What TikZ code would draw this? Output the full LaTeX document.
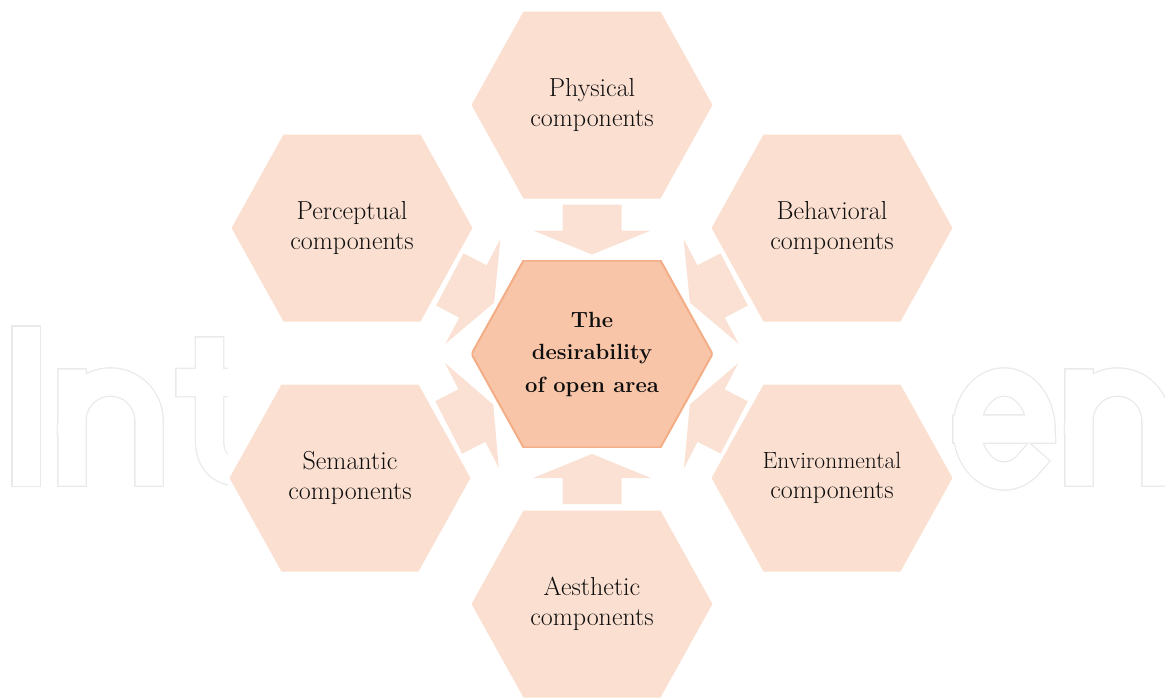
\documentclass[tikz,border=0pt]{standalone}
\usetikzlibrary{calc}
\definecolor{hexc}{RGB}{251,224,209}
\definecolor{centc}{RGB}{248,197,168}
\definecolor{centb}{RGB}{243,174,135}
\definecolor{arrc}{RGB}{251,225,211}
\definecolor{wmgray}{RGB}{234,234,234}
\definecolor{textc}{RGB}{15,15,15}
\newcommand\hexpts{(path picture bounding box.west) -- ([xshift=52pt]path picture bounding box.north west) -- ([xshift=-52pt]path picture bounding box.north east) -- (path picture bounding box.east) -- ([xshift=-52pt]path picture bounding box.south east) -- ([xshift=52pt]path picture bounding box.south west) -- cycle}
\newcommand\blockarr[2]{%
  \fill[arrc] let \p1=($(#2)-(#1)$), \p2=($(#1)!0.5!(#2)$), \n1={atan2(\y1,\x1)} in
    ([shift={(\p2)},rotate=\n1]-25,-29.5) -- ([shift={(\p2)},rotate=\n1]1,-29.5) --
    ([shift={(\p2)},rotate=\n1]1,-59) -- ([shift={(\p2)},rotate=\n1]25,0) --
    ([shift={(\p2)},rotate=\n1]1,59) -- ([shift={(\p2)},rotate=\n1]1,29.5) --
    ([shift={(\p2)},rotate=\n1]-25,29.5) -- cycle;}
\tikzset{
  watermark/.style={draw=wmgray, line width=1.3pt, double=white, double distance=27pt, line cap=rect},
  hexbase/.style={minimum width=241pt, minimum height=187pt, inner sep=0pt, align=center, text=textc},
  outerhex/.style={hexbase, font=\fontsize{26}{30}\selectfont, path picture={\fill[hexc] \hexpts;}},
  centerhex/.style={hexbase, font=\bfseries\fontsize{22}{32.5}\selectfont, path picture={\filldraw[fill=centc, draw=centb, line width=2pt] \hexpts;}},
}
\begin{document}
\begin{tikzpicture}[x=1pt,y=-1pt]
\useasboundingbox (0,0) rectangle (1165,697);
\clip (0,0) rectangle (1165,697);
% watermark
\draw[watermark] (26,340) -- (26,472);
\draw[watermark] (72,472) -- (72,383)
  (72,420.5) .. controls (72,399.2) and (89.2,382) .. (110.5,382) .. controls (131.8,382) and (149,399.2) .. (149,420.5) -- (149,472);
\draw[watermark] (209.5,351) -- (209.5,440) .. controls (209.5,462) and (222,473) .. (245,473)
  (190,382.5) -- (260,382.5);
\draw[watermark] (967,429) -- (1041,429) arc[start angle=0, end angle=-315, x radius=37, y radius=47];
\draw[watermark] (1079,472) -- (1079,383)
  (1079,420.5) .. controls (1079,399.2) and (1096.2,382) .. (1117.5,382) .. controls (1138.8,382) and (1156,399.2) .. (1156,420.5) -- (1156,472);
\fill[white] (228,0) rectangle (952,697);
% hexagons
\node[centerhex] (c) at (592,354) {The\\desirability\\of open area};
\node[outerhex] (phys) at (592,105) {Physical\\components};
\node[outerhex] (perc) at (352,228) {Perceptual\\components};
\node[outerhex] (beh) at (832,228) {Behavioral\\components};
\node[outerhex] (sem) at (350,478) {Semantic\\components};
\node[outerhex] (env) at (832,478) {{\fontsize{23.5}{30}\selectfont Environmental}\\components};
\node[outerhex] (aes) at (592,604) {Aesthetic\\components};
% block arrows
\blockarr{phys}{c}
\blockarr{perc}{c}
\blockarr{beh}{c}
\blockarr{sem}{c}
\blockarr{env}{c}
\blockarr{aes}{c}
\end{tikzpicture}
\end{document}
